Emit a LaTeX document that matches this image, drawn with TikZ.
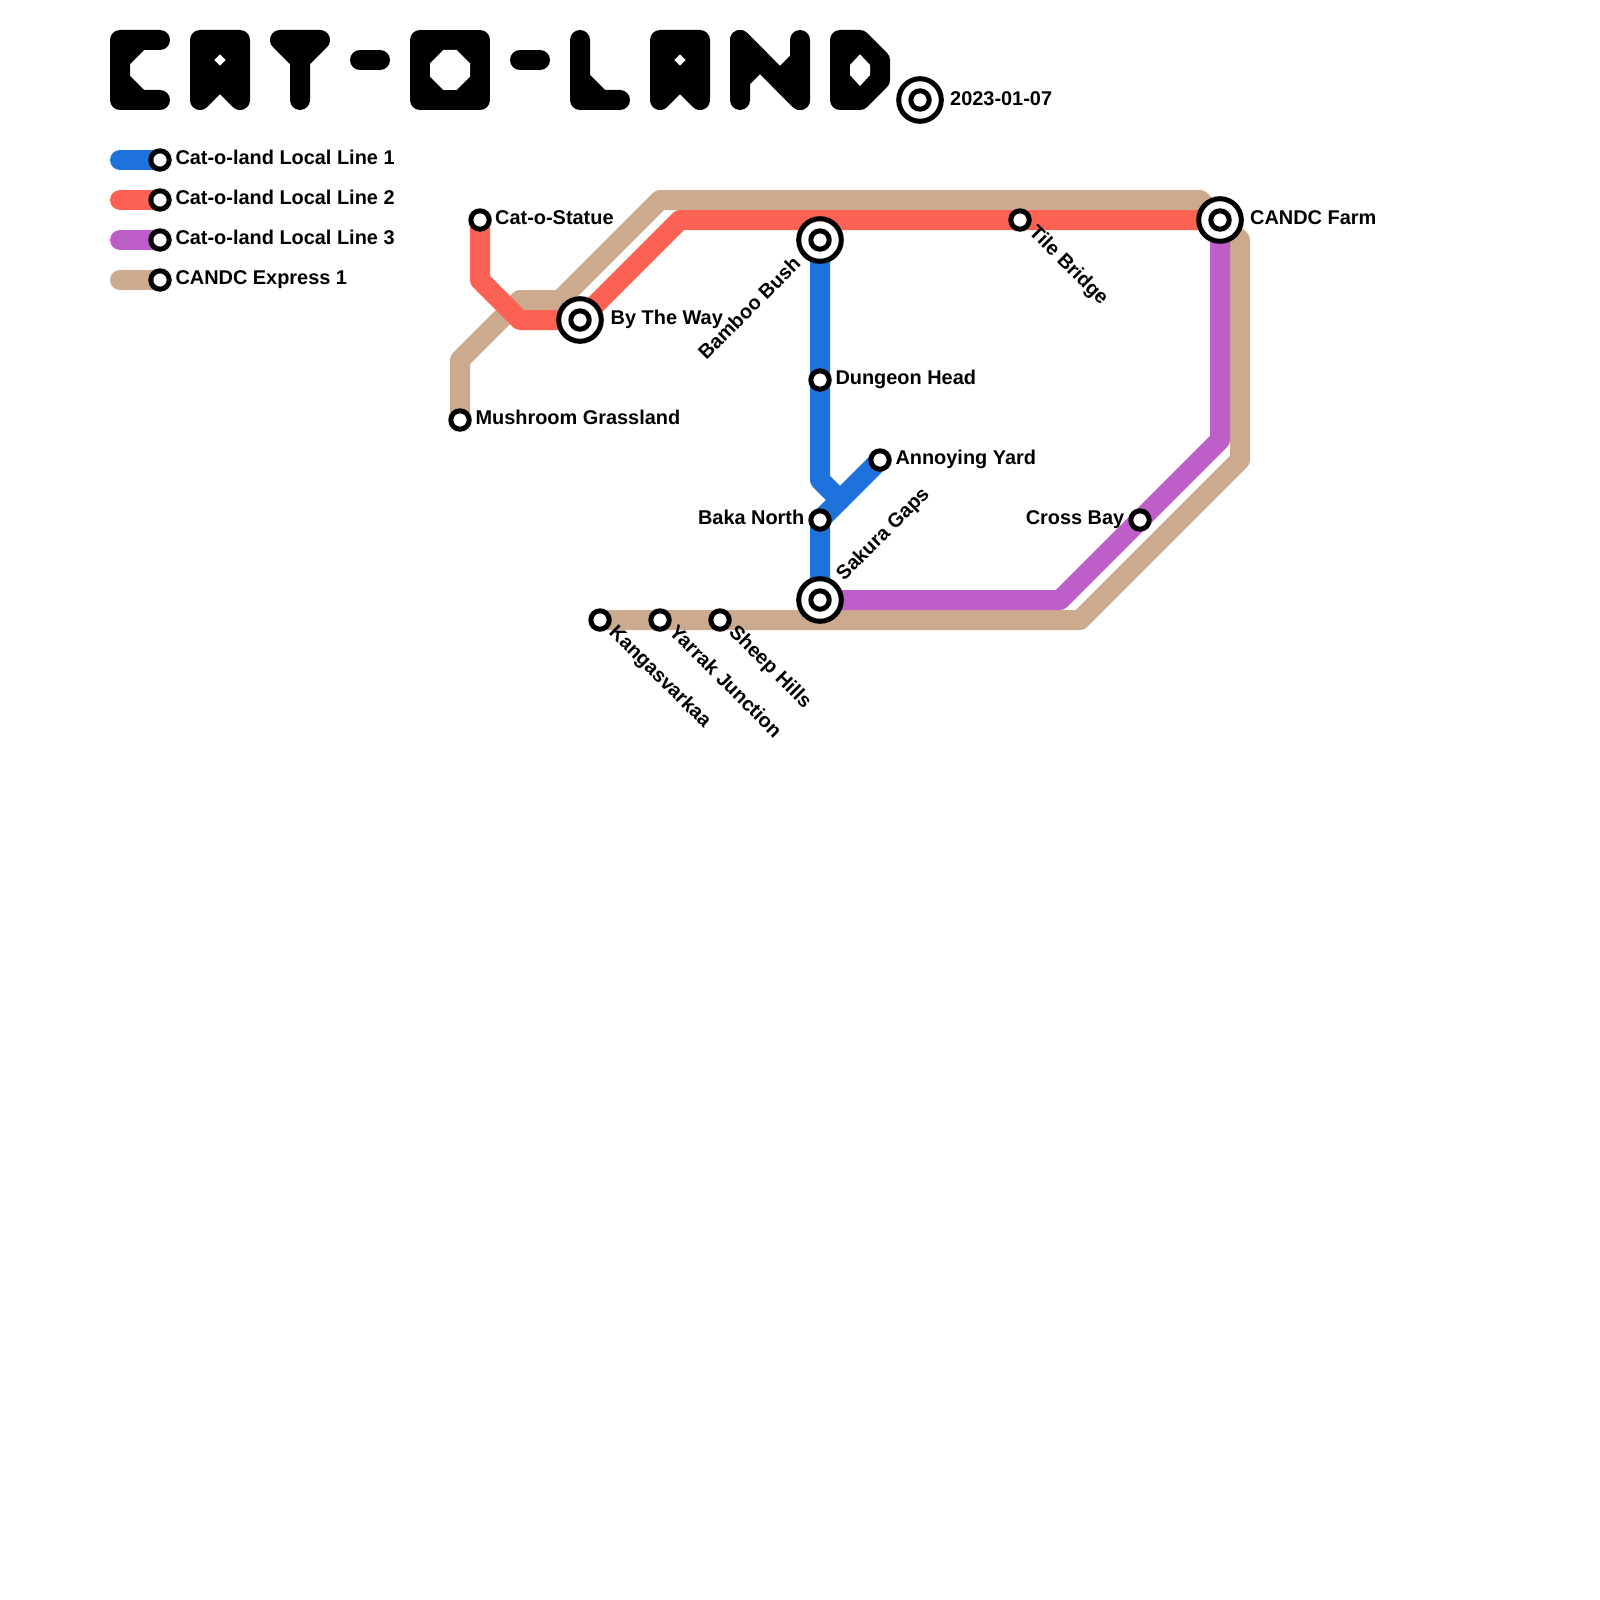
\documentclass[tikz,border=0pt]{standalone}
\usepackage{fontspec}
\setmainfont{Liberation Sans}[BoldFont={Liberation Sans Bold}]
\usetikzlibrary{backgrounds}
\definecolor{lineone}{HTML}{1D72DB}
\definecolor{linetwo}{HTML}{FB6254}
\definecolor{linethree}{HTML}{BE5FC9}
\definecolor{express}{HTML}{CBAA8E}
\tikzset{
  route/.style={line width=20pt,line cap=round,line join=round},
  glyph/.style={draw=black,fill=black,line width=20pt,line cap=round,line join=round},
  glyphhole/.style={fill=white},
  smallst/.style={circle,draw=black,fill=white,line width=5pt,outer sep=0pt,minimum size=18.4pt,inner sep=0pt},
  bigst/.style={circle,draw=black,fill=white,line width=5pt,outer sep=0pt,minimum size=42.6pt,inner sep=0pt},
  lab/.style={font=\fontsize{19.92}{24}\selectfont\bfseries,inner sep=0pt,text=black},
}
\begin{document}
\begin{tikzpicture}[x=1pt,y=-1pt]
\useasboundingbox (0,0) rectangle (1600,1600);
% title
\path[glyph] (160,40)--(120,40)--(120,100)--(160,100)--(140,100)--(120,80)--(120,60)--(140,40)--cycle;
\path[glyph] (200,40)--(240,40)--(240,100)--(220,80)--(200,100)--cycle;
\path[glyphhole] (220,54.3)--(225.7,60)--(220,65.7)--(214.3,60)--cycle;
\path[glyph] (280,40)--(320,40)--(300,60)--(300,100)--(300,60)--cycle;
\path[glyph] (360,60)--(380,60);
\path[glyph] (420,40)--(480,40)--(480,100)--(420,100)--cycle;
\path[glyphhole] (443.3,50)--(456.7,50)--(470,63.3)--(470,76.7)--(456.7,90)--(443.3,90)--(430,76.7)--(430,63.3)--cycle;
\path[glyph] (520,60)--(540,60);
\path[glyph] (580,40)--(580,100)--(620,100)--(601,100)--(580,79)--cycle;
\path[glyph] (660,40)--(700,40)--(700,100)--(680,80)--(660,100)--cycle;
\path[glyphhole] (680,54.3)--(685.7,60)--(680,65.7)--(674.3,60)--cycle;
\path[glyph] (740,100)--(740,40)--(760,60)--(740,80)--cycle;
\path[glyph] (740,40)--(800,100);
\path[glyph] (800,40)--(800,100)--(780,80)--(800,60)--cycle;
\path[glyph] (840,40)--(860,40)--(880,60)--(880,80)--(860,100)--(840,100)--cycle;
\path[glyphhole] (860,54.3)--(870,65)--(870,75)--(860,86)--(850,75)--(850,65)--cycle;
% waypoints
\coordinate (k1) at (120,160); \coordinate (k2) at (120,200); \coordinate (k3) at (120,240); \coordinate (k4) at (120,280);
\coordinate (r1) at (480,280); \coordinate (r2) at (520,320); \coordinate (r3) at (680,220);
\coordinate (e1) at (460,360); \coordinate (e2) at (520,300); \coordinate (e3) at (560,300); \coordinate (e4) at (660,200);
\coordinate (e5) at (1200,200); \coordinate (e6) at (1240,240); \coordinate (e7) at (1240,460); \coordinate (e8) at (1080,620);
\coordinate (p1) at (1060,600); \coordinate (p2) at (1220,440);
\coordinate (b1) at (820,480); \coordinate (b2) at (840,500);
% stations
\foreach \n/\x/\y in {skey1/160/160,skey2/160/200,skey3/160/240,skey4/160/280,statue/480/220,mushroom/460/420,dungeon/820/380,annoying/880/460,baka/820/520,crossbay/1140/520,tile/1020/220,kangas/600/620,yarrak/660/620,sheep/720/620}
  \node[smallst] (\n) at (\x,\y) {};
\foreach \n/\x/\y in {way/580/320,bamboo/820/240,sakura/820/600,farm/1220/220,datest/920/100}{
  \node[bigst] (\n) at (\x,\y) {};
  \node[smallst] (\n core) at (\x,\y) {};
}
% routes, beneath the stations
\begin{scope}[on background layer]
\path[route,draw=express] (k4)--(skey4.center);
\path[route,draw=linethree] (k3)--(skey3.center);
\path[route,draw=linetwo] (k2)--(skey2.center);
\path[route,draw=lineone] (k1)--(skey1.center);
\path[route,draw=express] (mushroom.center)--(e1)--(e2)--(e3)--(e4)--(e5)--(e6)--(e7)--(e8)--(kangas.center);
\path[route,draw=linethree] (sakura.center)--(p1)--(p2)--(farm.center);
\path[route,draw=linetwo] (statue.center)--(r1)--(r2)--(way.center)--(r3)--(farm.center);
\path[route,draw=lineone] (bamboo.center)--(b1)--(b2);
\path[route,draw=lineone] (annoying.center)--(baka.center)--(sakura.center);
\end{scope}
% labels
\node[lab,anchor=base west] (lk1) at (175.3,164.8) {Cat-o-land Local Line 1};
\node[lab,anchor=base west] (lk2) at (175.3,204.8) {Cat-o-land Local Line 2};
\node[lab,anchor=base west] (lk3) at (175.3,244.8) {Cat-o-land Local Line 3};
\node[lab,anchor=base west] (lk4) at (175.3,284.8) {CANDC Express 1};
\node[lab,anchor=base west] (ldate) at (950,105.5) {2023-01-07};
\node[lab,anchor=base west] (lstatue) at (495,224.8) {Cat-o-Statue};
\node[lab,anchor=base west] (lmush) at (475.3,424.8) {Mushroom Grassland};
\node[lab,anchor=base west] (lway) at (610.5,324.8) {By The Way};
\node[lab,anchor=base west] (lfarm) at (1250,224.8) {CANDC Farm};
\node[lab,anchor=base west] (ldung) at (835.3,384.8) {Dungeon Head};
\node[lab,anchor=base west] (lann) at (895.3,464.8) {Annoying Yard};
\node[lab,anchor=base east] (lbaka) at (804.5,524.8) {Baka North};
\node[lab,anchor=base east] (lcross) at (1124.5,524.8) {Cross Bay};
\node[lab,anchor=base east,rotate=45] (lbamboo) at (802,265) {Bamboo Bush};
\node[lab,anchor=base west,rotate=45] (lsakura) at (844,581.5) {Sakura Gaps};
\node[lab,anchor=base west,rotate=-45] (ltile) at (1028,233) {Tile Bridge};
\node[lab,anchor=base west,rotate=-45] (lkang) at (608,633) {Kangasvarkaa};
\node[lab,anchor=base west,rotate=-45] (lyar) at (668,633) {Yarrak Junction};
\node[lab,anchor=base west,rotate=-45] (lsheep) at (728,633) {Sheep Hills};
\end{tikzpicture}
\end{document}
